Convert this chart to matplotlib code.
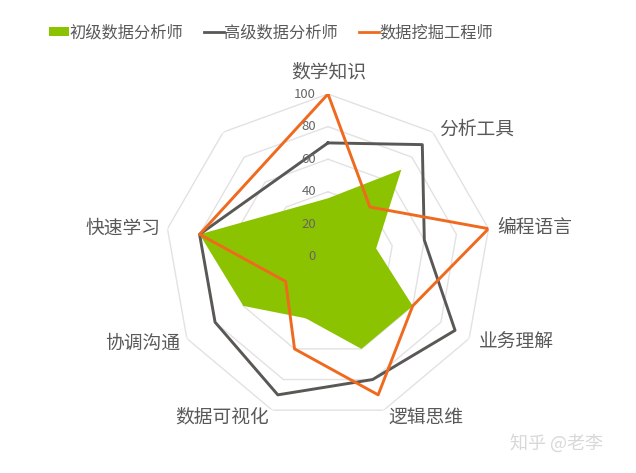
import numpy as np
import matplotlib
matplotlib.use("Agg")
import matplotlib.pyplot as plt
from matplotlib.patches import Patch
from matplotlib.lines import Line2D

plt.rcParams['font.family'] = ['Noto Sans CJK SC', 'DejaVu Sans']

# =========================
# Data
# =========================
categories = ["数学知识", "分析工具", "编程语言", "业务理解", "逻辑思维",
              "数据可视化", "协调沟通", "快速学习", ""]   # 9th axis has no label / no data
junior = [36, 70, 30, 60, 60, 40, 60, 80]      # 初级数据分析师
senior = [70, 90, 60, 90, 80, 90, 80, 80]      # 高级数据分析师
miner = [100, 40, 100, 60, 90, 60, 30, 80]     # 数据挖掘工程师
series_names = ["初级数据分析师", "高级数据分析师", "数据挖掘工程师"]
ticks = [0, 20, 40, 60, 80, 100]

GREEN = "#8CC300"
GRAY = "#5A5855"
ORANGE = "#EF6A1E"
GRID = "#E2E2E2"
TEXT = "#595959"

n_axes = len(categories)
theta = np.deg2rad(np.arange(n_axes) * 360.0 / n_axes)
theta_data = theta[:len(junior)]


def closed(arr):
    return np.append(arr, arr[0])


fig = plt.figure(figsize=(6.36, 4.73), dpi=100)
ax = fig.add_axes([165 / 636, 53 / 473, 326 / 636, 326 / 473], projection="polar")
ax.set_theta_zero_location("N")
ax.set_theta_direction(-1)
ax.set_ylim(0, 100)
ax.grid(False)
ax.spines["polar"].set_visible(False)
ax.set_xticks([])
ax.set_yticks([])
ax.patch.set_alpha(0)

# ---- polygon grid rings ----
for r in ticks[1:]:
    ax.plot(closed(theta), [r] * (n_axes + 1), color=GRID, lw=1.0, zorder=1)

# ---- series ----
ax.fill(closed(theta_data), closed(np.array(junior)), color=GREEN, lw=0, zorder=2)
ax.plot(closed(theta_data), closed(np.array(senior)), color=GRAY, lw=2.1, zorder=3)
ax.plot(closed(theta_data), closed(np.array(miner)), color=ORANGE, lw=2.1, zorder=4)

# ---- value tick labels along top axis ----
for t in ticks:
    ax.annotate(str(t), xy=(0, t), xytext=(-12, 0), textcoords="offset pixels",
                ha="right", va="center", fontsize=9.5, color="#666666", zorder=5)

# ---- category labels (pixel offsets from outer vertex) ----
label_offsets = [(1, 22), (44, 3), (46, 1), (47, -4), (42, -7),
                 (-50, -7), (-44, -5), (-45, 0), (0, 0)]
for ang, name, (dx, dy) in zip(theta, categories, label_offsets):
    if not name:
        continue
    ax.annotate(name, xy=(ang, 100), xytext=(dx, dy), textcoords="offset pixels",
                ha="center", va="center", fontsize=13.5, color=TEXT,
                annotation_clip=False)

# ---- legend ----
handles = [Patch(facecolor=GREEN, edgecolor="none"),
           Line2D([], [], color=GRAY, lw=2.0),
           Line2D([], [], color=ORANGE, lw=2.0)]
fig.legend(handles, series_names, loc="center", bbox_to_anchor=(271 / 636, 1 - 33 / 473),
           ncol=3, frameon=False, fontsize=11.7, handlelength=1.25, handleheight=0.45,
           handletextpad=0.0, columnspacing=1.3, labelcolor=TEXT)

# ---- watermark ----
fig.text(557 / 636, 1 - 443 / 473, "知乎 @老李", ha="center", va="center",
         fontsize=13, color="#D8D8D8")

fig.savefig("out.png", dpi=100, facecolor="white")
